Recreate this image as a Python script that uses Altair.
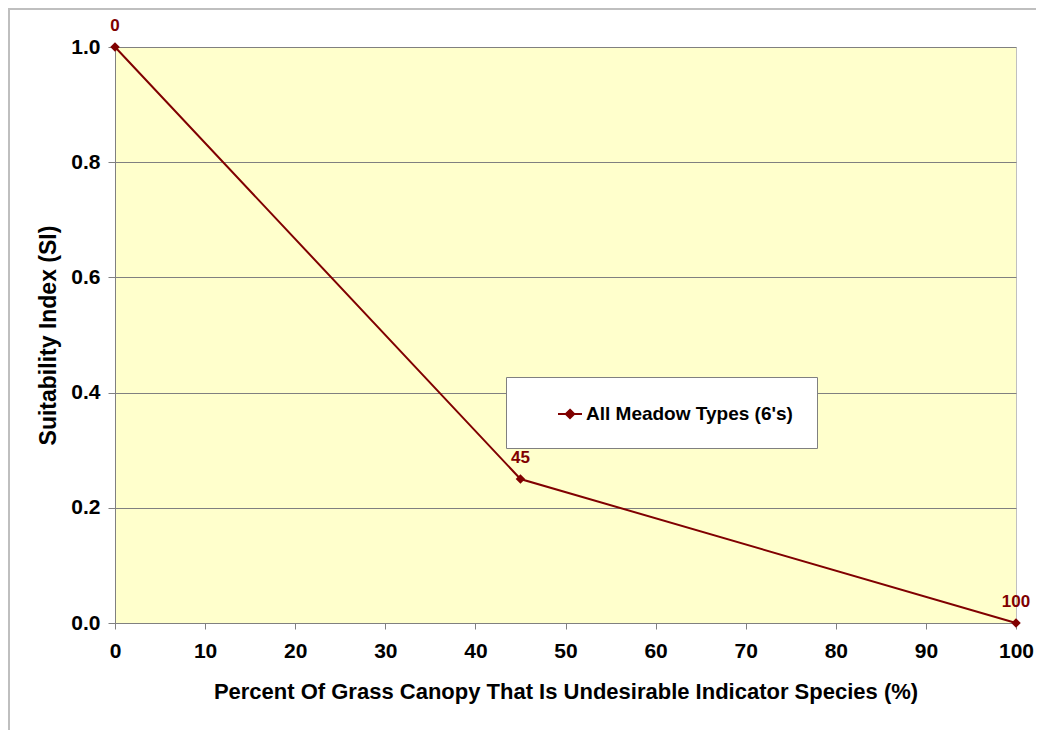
import altair as alt
import pandas as pd

# Data
pct_undesirable = [0, 45, 100]
suitability = [1.0, 0.25, 0.0]
point_labels = ["0", "45", "100"]
series_name = "All Meadow Types (6's)"

x_ticks = [0, 10, 20, 30, 40, 50, 60, 70, 80, 90, 100]
y_ticks = [0.0, 0.2, 0.4, 0.6, 0.8, 1.0]

df = pd.DataFrame({
    "x": pct_undesirable,
    "y": suitability,
    "label": point_labels,
    "series": [series_name] * len(pct_undesirable),
})

FONT = "Liberation Sans"
RED = "#800000"

x_enc = alt.X("x:Q", scale=alt.Scale(domain=[0, 100], nice=False),
              axis=alt.Axis(values=x_ticks, format="d", grid=False, labelFlush=False,
                            title="Percent Of Grass Canopy That Is Undesirable Indicator Species (%)",
                            titleX=450.5, titleY=68, titleBaseline="middle", titleFontSize=22,
                            tickSize=6, labelPadding=11))
y_enc = alt.Y("y:Q", scale=alt.Scale(domain=[0, 1], nice=False),
              axis=alt.Axis(values=y_ticks, format=".1f", grid=True, labelFlush=False,
                            title="Suitability Index (SI)",
                            titleX=-67, titleY=288, titleBaseline="middle", titleFontSize=23,
                            tickSize=7, labelPadding=8))

frame = alt.Chart(df).mark_rect(fill=None, stroke="#BFBFBF", strokeWidth=2, clip=False).encode(
    x=alt.value(-106), x2=alt.value(930), y=alt.value(-38), y2=alt.value(700)
)

line = alt.Chart(df).mark_line(
    color=RED, strokeWidth=2,
    point=alt.OverlayMarkDef(shape="diamond", size=90, filled=True, color=RED),
).encode(
    x=x_enc,
    y=y_enc,
    color=alt.Color("series:N", scale=alt.Scale(domain=[series_name], range=[RED]),
                    legend=alt.Legend(
                        title=None, orient="none", legendX=391, legendY=330,
                        padding=24, fillColor="white", strokeColor="#808080",
                        symbolType="M-1,0L1,0M0,-0.35L0.35,0L0,0.35L-0.35,0Z",
                        symbolSize=576, symbolStrokeWidth=2,
                        symbolFillColor=RED, symbolStrokeColor=RED,
                        symbolOffset=27, labelOffset=3, labelLimit=500,
                        labelFont=FONT, labelFontSize=19, labelFontWeight="bold",
                        labelColor="black")),
)

labels = alt.Chart(df).mark_text(
    color=RED, font=FONT, fontSize=17, fontWeight="bold", dy=-21, baseline="middle",
    align="center", clip=False,
).encode(x="x:Q", y="y:Q", text="label:N")

chart = alt.layer(frame, line, labels).properties(
    width=901, height=576,
    autosize=alt.AutoSizeParams(type="none"),
    padding={"left": 107, "top": 39, "right": 20, "bottom": 107},
).configure_view(
    fill="#FFFFCC", stroke="#C0C0C0", strokeWidth=1
).configure_axis(
    domainColor="#808080", tickColor="#808080", gridColor="#808080",
    labelFont=FONT, labelFontSize=21, labelFontWeight="bold", labelColor="black",
    titleFont=FONT, titleFontSize=22, titleFontWeight="bold", titleColor="black",
)

chart.save("out.html", embed_options={"renderer": "svg", "actions": False})
